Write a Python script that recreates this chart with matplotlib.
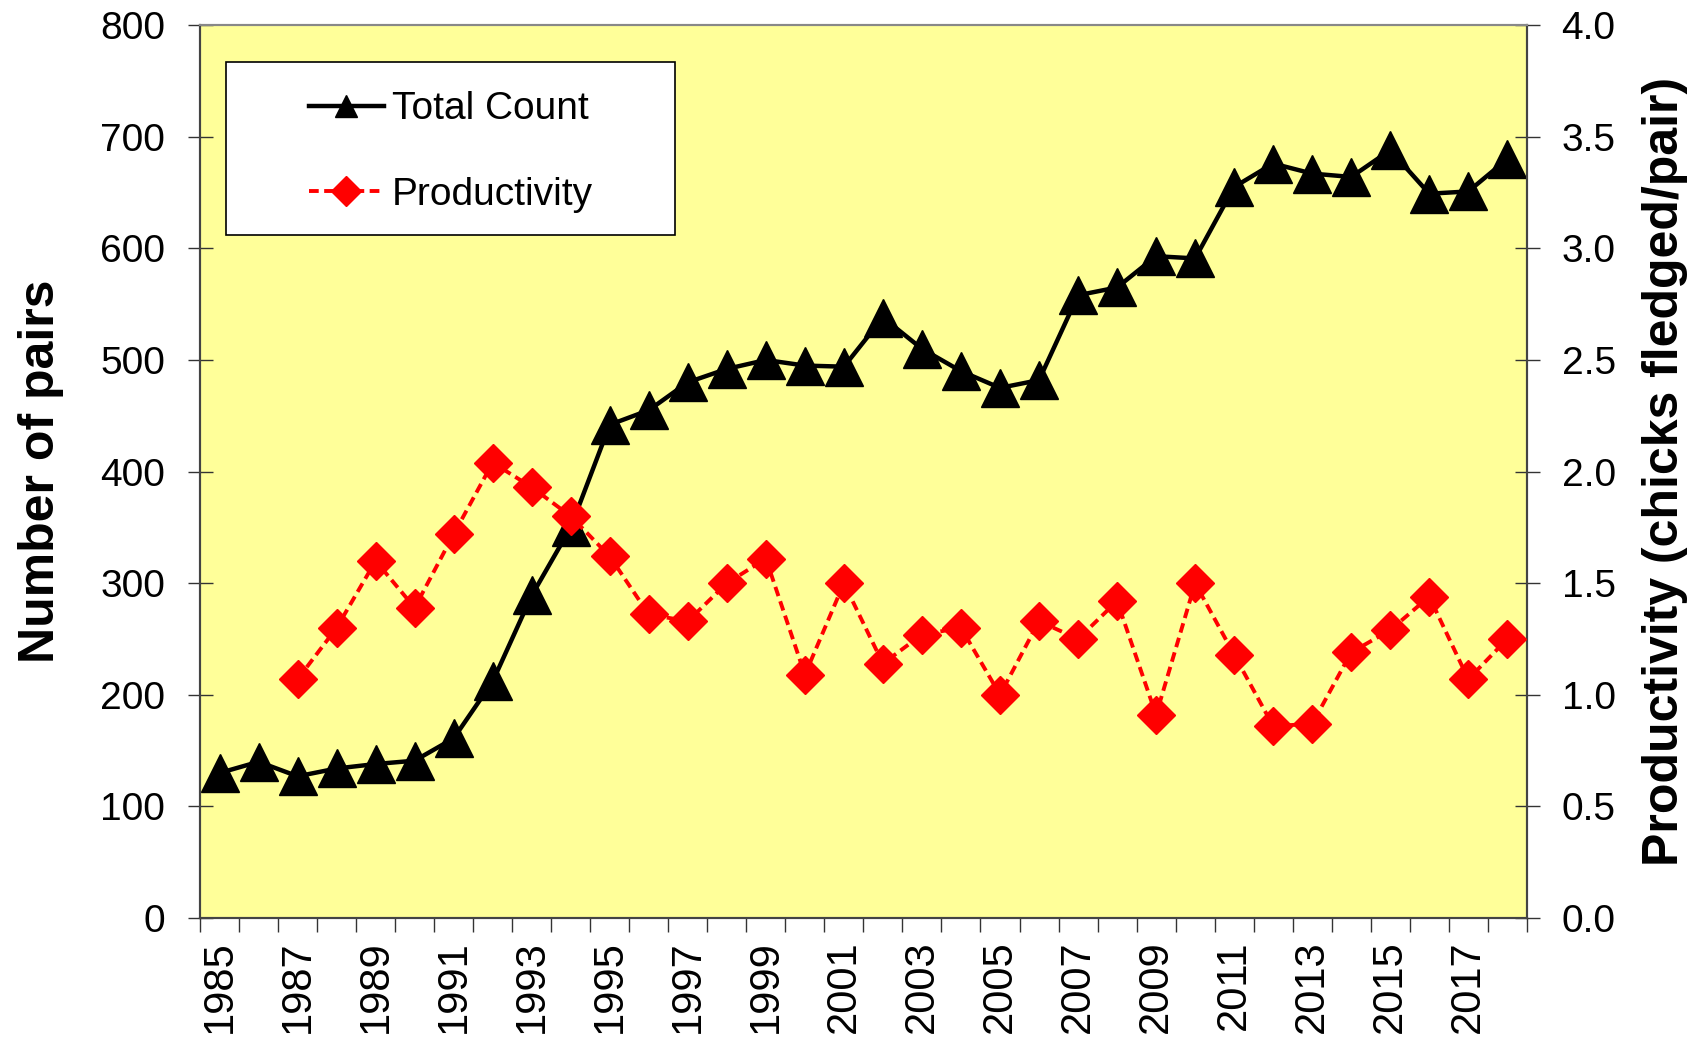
import matplotlib
matplotlib.use("Agg")
import numpy as np
import matplotlib.pyplot as plt
from matplotlib.patches import Rectangle
from matplotlib.ticker import MultipleLocator, FormatStrFormatter

plt.rcParams['font.family'] = ['Liberation Sans', 'DejaVu Sans']

# data
years = list(range(1985, 2019))
total_count = [130, 140, 127, 134, 138, 141, 161, 212, 289, 350,
               442, 455, 480, 492, 500, 495, 494, 538, 510, 490,
               475, 482, 558, 565, 593, 591, 655, 676, 667, 664,
               688, 649, 651, 680]
prod_years = list(range(1987, 2019))
productivity = [1.07, 1.30, 1.60, 1.39, 1.72, 2.04, 1.93, 1.80, 1.62, 1.36,
                1.33, 1.50, 1.61, 1.09, 1.50, 1.14, 1.27, 1.30, 1.00, 1.33,
                1.25, 1.42, 0.91, 1.50, 1.18, 0.86, 0.87, 1.19, 1.29, 1.44,
                1.07, 1.25]
year_labels = [str(y) for y in years[::2]]

fig = plt.figure(figsize=(17.01, 10.48), dpi=100)
ax = fig.add_axes([0.1176, 0.124, 0.780, 0.852])
ax.set_facecolor('#FFFF99')
ax2 = ax.twinx()

# category axis: each year occupies one slot, ticks on slot edges
xpos = np.arange(len(years))
xprod = np.array([years.index(y) for y in prod_years])

ax.plot(xpos, total_count, color='black', lw=3.2, marker='^', ms=27,
        mfc='black', mec='black', label='Total Count', zorder=3)
ax2.plot(xprod, productivity, color='red', lw=2.8, ls=(0, (2.5, 1.4)),
         marker='D', ms=19, mfc='red', mec='red', label='Productivity', zorder=3)

ax.set_xlim(-0.5, len(years) - 0.5)
ax.set_ylim(0, 800)
ax2.set_ylim(0, 4.0)

ax.set_xticks(np.arange(len(years) + 1) - 0.5)
ax.set_xticklabels([])
ax.set_xticks(xpos[::2], minor=True)
ax.set_xticklabels(year_labels, minor=True, rotation=90, fontsize=30)
ax.tick_params(axis='x', which='major', direction='out', length=10, width=1,
               color='#333333')
ax.tick_params(axis='x', which='minor', length=0, pad=16)

ax.yaxis.set_major_locator(MultipleLocator(100))
ax.tick_params(axis='y', direction='inout', length=18, width=1,
               color='#333333', labelsize=28, pad=16)
ax2.yaxis.set_major_locator(MultipleLocator(0.5))
ax2.yaxis.set_major_formatter(FormatStrFormatter('%.1f'))
ax2.tick_params(axis='y', direction='inout', length=18, width=1,
                color='#333333', labelsize=28, pad=16)

for a in (ax, ax2):
    a.spines['top'].set_color('#888888')
    a.spines['top'].set_linewidth(1.5)
    for s in ('left', 'right', 'bottom'):
        a.spines[s].set_color('#444444')
        a.spines[s].set_linewidth(1.5)

ax.set_ylabel('Number of pairs', fontsize=36, fontweight='bold', labelpad=26)
ax2.set_ylabel('Productivity (chicks fledged/pair)', fontsize=36,
               fontweight='bold', labelpad=19)

# legend: white box with black frame, entries indented from the left
ax2.add_patch(Rectangle((0.0196, 0.7648), 0.3384, 0.1937, transform=ax2.transAxes,
                        facecolor='white', edgecolor='black', lw=1.2, zorder=4))
h1, l1 = ax.get_legend_handles_labels()
h2, l2 = ax2.get_legend_handles_labels()
leg = ax2.legend(h1 + h2, l1 + l2, loc='upper left',
                 bbox_to_anchor=(0.0821, 0.926), fontsize=28,
                 frameon=False, handlelength=1.93, labelspacing=1.28,
                 borderpad=0, handletextpad=0.2, borderaxespad=0)
leg.set_zorder(5)
leg.legend_handles[0].set_markersize(16)
leg.legend_handles[1].set_markersize(15)

fig.savefig('out.png', dpi=100)
